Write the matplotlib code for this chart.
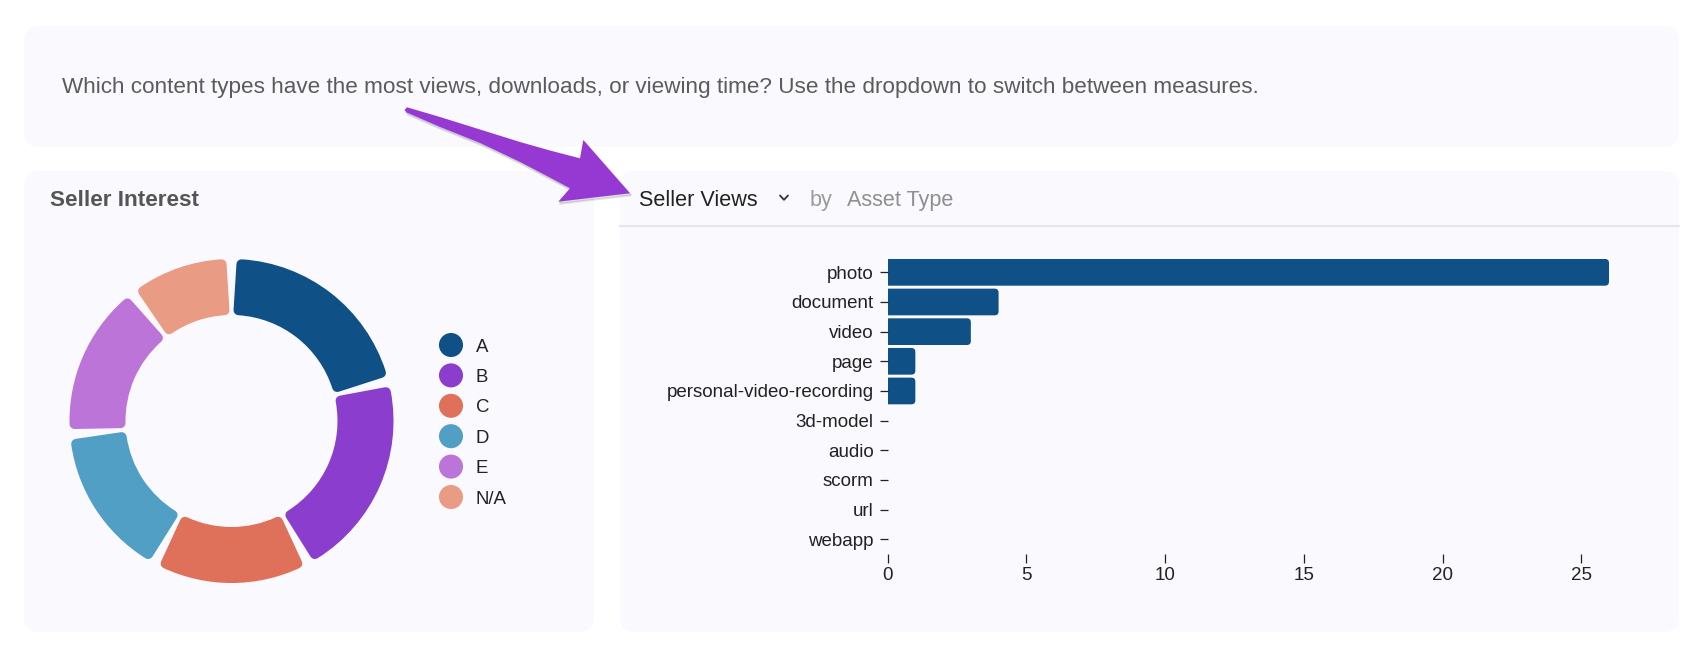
"""Seller interest donut + asset-type bar panel, dashboard screenshot recreation."""

import matplotlib
import numpy as np

matplotlib.use("Agg")
import matplotlib.pyplot as plt
from matplotlib.patches import FancyBboxPatch, Polygon


FIG_W, FIG_H = 1700, 646
OUT_PATH = "out.png"

INTRO = (
    "Which content types have the most views, downloads, or viewing time? "
    "Use the dropdown to switch between measures."
)

PIE_TITLE = "Seller Interest"
SEGMENTS = ["A", "B", "C", "D", "E", "N/A"]
SEGMENT_COUNTS = [4, 4, 3, 3, 3, 2]
SEGMENT_COLORS = ["#0f5087", "#8b3dcd", "#df715a", "#529fc6", "#bd74d9", "#e99b83"]

MEASURE = "Seller Views"
GROUP_BY = "Asset Type"
ASSET_TYPES = [
    "photo", "document", "video", "page", "personal-video-recording",
    "3d-model", "audio", "scorm", "url", "webapp",
]
ASSET_VIEWS = [26, 4, 3, 1, 1, 0, 0, 0, 0, 0]
X_TICKS = [0, 5, 10, 15, 20, 25]
X_MAX = 26

PANEL_COLOR = "#f9f9fe"
BAR_COLOR = "#0f5087"
ARROW_COLOR = "#9639d3"
TEXT_DARK = "#222222"

plt.rcParams["font.family"] = ["Liberation Sans", "DejaVu Sans"]


def px_rect(x0, y0, x1, y1):
    # pixel box measured from the top-left corner -> figure-fraction rect
    return [x0 / FIG_W, 1 - y1 / FIG_H, (x1 - x0) / FIG_W, (y1 - y0) / FIG_H]


def draw_background(fig):
    bg = fig.add_axes([0, 0, 1, 1])
    bg.set_xlim(0, FIG_W)
    bg.set_ylim(FIG_H, 0)
    bg.axis("off")

    for x0, y0, x1, y1 in [(24, 26, 1679, 147), (24, 171, 594, 632), (620, 171, 1679, 632)]:
        bg.add_patch(FancyBboxPatch(
            (x0, y0), x1 - x0, y1 - y0,
            boxstyle="round,pad=0,rounding_size=16",
            facecolor=PANEL_COLOR, edgecolor="none",
        ))

    bg.text(62, 93, INTRO, fontsize=16.2, color="#5b5b5b", va="baseline")
    bg.text(50, 205.5, PIE_TITLE, fontsize=16.2, fontweight="bold", color="#555555", va="baseline")

    # dropdown header of the bar panel
    bg.text(639, 206, MEASURE, fontsize=15.6, color=TEXT_DARK, va="baseline")
    bg.plot([780, 784, 788], [195.5, 199.8, 195.5], color="#333333", lw=1.3,
            solid_capstyle="round", solid_joinstyle="round")
    bg.text(810, 206, "by", fontsize=15.6, color="#9a9a9a", va="baseline")
    bg.text(847, 206, GROUP_BY, fontsize=15.6, color="#8f8f8f", va="baseline")
    bg.plot([620, 1679], [226, 226], color="#e5e5ed", lw=1.5)

    # annotation arrow pointing at the dropdown
    outline = np.array([
        (404.5, 110), (407, 107.3), (440, 117), (480, 129.5), (520, 142),
        (550, 150.5), (580, 158.3), (583.3, 140), (630, 193.3), (558.3, 201.7),
        (570, 188.3), (545, 175), (520, 162), (480, 143), (440, 127), (407, 112.7),
    ])
    bg.add_patch(Polygon(outline + [1.2, 2.0], closed=True, facecolor="#000000",
                         edgecolor="#000000", lw=1.5, alpha=0.10))
    bg.add_patch(Polygon(outline, closed=True, facecolor=ARROW_COLOR, edgecolor="none"))

    # legend for the donut
    for i, (name, color) in enumerate(zip(SEGMENTS, SEGMENT_COLORS)):
        y = 345 + i * 30.4
        bg.scatter(451, y, s=300, color=color, edgecolors="none")
        bg.text(476, y, name, fontsize=13.4, color=TEXT_DARK, va="center_baseline")
    return bg


def draw_donut(fig):
    cx, cy, r_out, r_in, half = 231.5, 421, 162, 106, 175
    corner, gap = 5.0, 7.0
    ax = fig.add_axes(px_rect(cx - half, cy - half, cx + half, cy + half))
    wedges, _ = ax.pie(
        SEGMENT_COUNTS,
        colors=SEGMENT_COLORS,
        startangle=90,
        counterclock=False,
        radius=r_out - corner,
        wedgeprops=dict(width=r_out - r_in - 2 * corner),
    )
    trim = np.degrees((gap / 2 + corner) / ((r_out + r_in) / 2))
    for w in wedges:
        w.set_theta1(w.theta1 + trim)
        w.set_theta2(w.theta2 - trim)
        w.set_edgecolor(w.get_facecolor())
        w.set_linewidth(2 * corner * 0.72)
        w.set_joinstyle("round")
    ax.set_xlim(-half, half)
    ax.set_ylim(-half, half)
    ax.set_aspect("equal")
    ax.axis("off")


def draw_bars(fig):
    left, top, right, bottom = 887.6, 257.5, 1609, 554.1
    ax = fig.add_axes(px_rect(left, top, right, bottom))
    ax.set_facecolor("none")
    n = len(ASSET_TYPES)
    ax.set_xlim(0, X_MAX)
    ax.set_ylim(n - 0.5, -0.5)

    px_x = (right - left) / X_MAX
    px_y = (bottom - top) / n
    rx = 4 / px_x
    for i, value in enumerate(ASSET_VIEWS):
        if value <= 0:
            continue
        # start left of zero so only the right end shows rounded corners
        ax.add_patch(FancyBboxPatch(
            (-rx, i - 0.45), value + rx, 0.9,
            boxstyle=f"round,pad=0,rounding_size={rx}",
            mutation_aspect=px_x / px_y,
            facecolor=BAR_COLOR, edgecolor="none",
        ))

    ax.set_yticks(np.arange(n), ASSET_TYPES)
    ax.set_xticks(X_TICKS)
    ax.tick_params(axis="y", length=5.8, width=0.9, pad=4.3, labelsize=13.5, colors=TEXT_DARK)
    ax.tick_params(axis="x", length=6.2, width=0.9, pad=3, labelsize=13.5, colors=TEXT_DARK)
    for spine in ax.spines.values():
        spine.set_visible(False)


def main():
    fig = plt.figure(figsize=(FIG_W / 100, FIG_H / 100), dpi=100)
    fig.patch.set_facecolor("white")
    draw_background(fig)
    draw_donut(fig)
    draw_bars(fig)
    fig.savefig(OUT_PATH, dpi=100)
    plt.close(fig)


if __name__ == "__main__":
    main()
